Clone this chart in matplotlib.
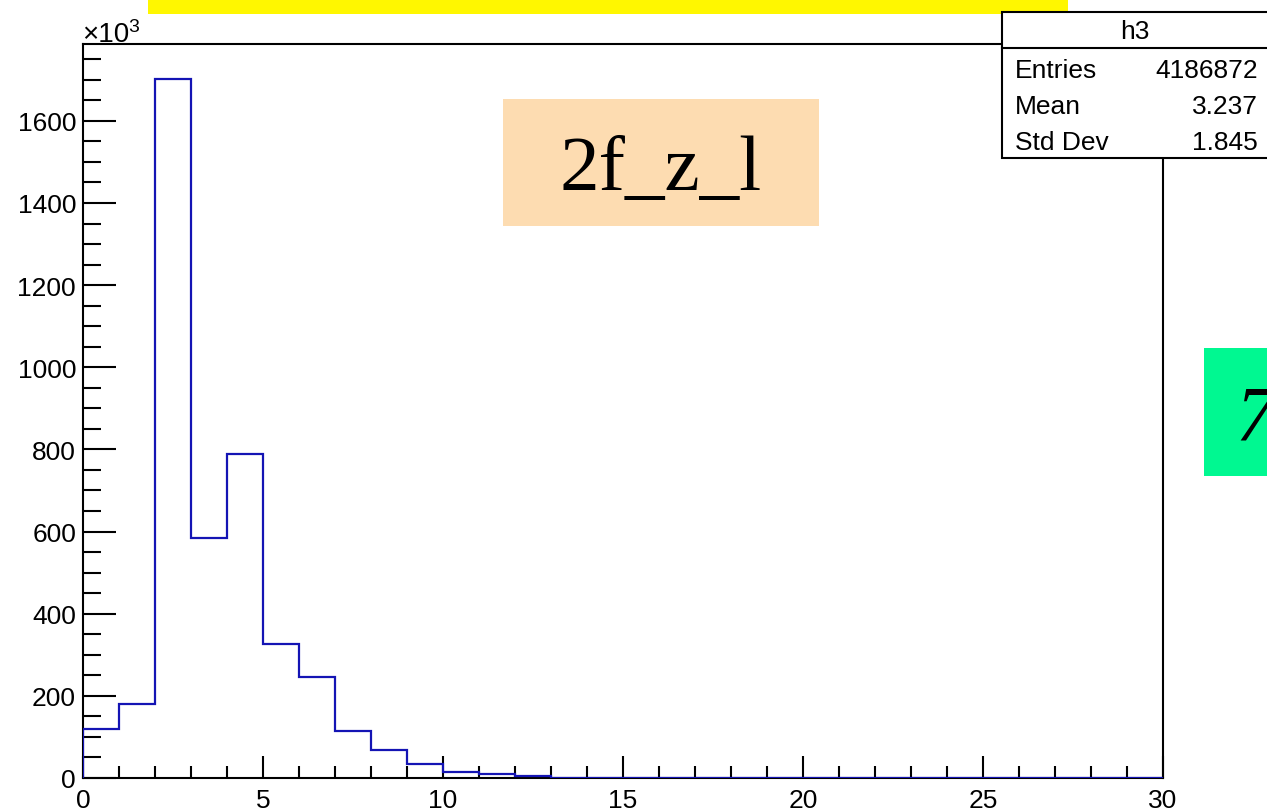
import matplotlib
matplotlib.use("Agg")
import matplotlib.pyplot as plt
from matplotlib.patches import Rectangle
from matplotlib.ticker import MultipleLocator
import numpy as np

# histogram contents, in units of 10^3 entries, unit-width bins from 0 to 30
bin_edges = np.arange(0, 31, 1)
counts_k = [119, 180, 1702, 584, 789, 326, 246, 114, 68, 34, 15, 10, 5] + [0] * 17

hist_name = 'h3'
stats_labels = ['Entries', 'Mean', 'Std Dev']
stats_values = ['4186872', '3.237', '1.845']

W, H = 1267, 812
fig = plt.figure(figsize=(W / 100, H / 100), dpi=100)
fig.patch.set_facecolor('white')

def fx(px):
    return px / W

def fy(py):
    return 1 - py / H

sans = 'Liberation Sans'
serif = 'Liberation Serif'

# main frame
ax = fig.add_axes([fx(83), fy(779), fx(1163) - fx(83), fy(45) - fy(779)])
ax.stairs(counts_k, bin_edges, baseline=0, color='#1414b4', lw=1.6, zorder=3)
ax.set_xlim(0, 30)
ax.set_ylim(0, 1.05 * max(counts_k))

ax.xaxis.set_major_locator(MultipleLocator(5))
ax.xaxis.set_minor_locator(MultipleLocator(1))
ax.yaxis.set_major_locator(MultipleLocator(200))
ax.yaxis.set_minor_locator(MultipleLocator(50))
ax.tick_params(which='both', direction='in', top=False, right=False, width=1.5,
               labelsize=19, colors='black')
ax.tick_params(axis='y', which='major', length=24, pad=5)
ax.tick_params(axis='y', which='minor', length=13)
ax.tick_params(axis='x', which='major', length=16, pad=7)
ax.tick_params(axis='x', which='minor', length=8.5)
for lab in ax.get_xticklabels() + ax.get_yticklabels():
    lab.set_fontfamily(sans)
for sp in ax.spines.values():
    sp.set_linewidth(1.5)

# x10^3 exponent
fig.text(fx(82), fy(42), '\u00d710', fontsize=20, family=sans, va='baseline', ha='left')
fig.text(fx(128), fy(32), '3', fontsize=14, family=sans, va='baseline', ha='left')

# yellow title strip
fig.patches.append(Rectangle((fx(148), fy(15)), fx(1068) - fx(148), fy(0) - fy(15),
                             transform=fig.transFigure, facecolor='#fff700',
                             edgecolor='none', zorder=5))

# peach label box
fig.patches.append(Rectangle((fx(503), fy(227)), fx(819) - fx(503), fy(100) - fy(227),
                             transform=fig.transFigure, facecolor='#fddcb1',
                             edgecolor='none', zorder=5))
fig.text(fx(661), fy(190), '2f_z_l', fontsize=57, family=serif, ha='center',
         va='baseline', zorder=6)

# green label box (cut at the right border)
fig.patches.append(Rectangle((fx(1204), fy(477)), fx(1290) - fx(1204), fy(349) - fy(477),
                             transform=fig.transFigure, facecolor='#00f891',
                             edgecolor='none', zorder=5))
fig.text(fx(1235), fy(440), '7', fontsize=57, family=serif, style='italic',
         ha='left', va='baseline', zorder=6)

# stats box
fig.patches.append(Rectangle((fx(1002), fy(159)), fx(1290) - fx(1002), fy(13) - fy(159),
                             transform=fig.transFigure, facecolor='white',
                             edgecolor='black', lw=1.5, zorder=7))
fig.lines.append(plt.Line2D([fx(1002), fx(1290)], [fy(49), fy(49)],
                            transform=fig.transFigure, color='black', lw=1.5, zorder=8))
fig.text(fx(1135), fy(32), hist_name, fontsize=19, family=sans, ha='center',
         va='center', zorder=9)
row_y = [71, 107, 143]
for lab, val, yy in zip(stats_labels, stats_values, row_y):
    fig.text(fx(1015), fy(yy), lab, fontsize=19, family=sans, ha='left', va='center', zorder=9)
    fig.text(fx(1258), fy(yy), val, fontsize=19, family=sans, ha='right', va='center', zorder=9)

fig.savefig('out.png', dpi=100)
